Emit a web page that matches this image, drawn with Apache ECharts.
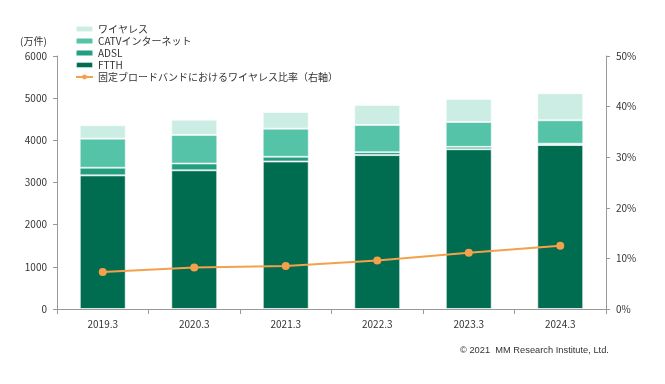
<!DOCTYPE html>
<html><head><meta charset="utf-8">
<script src="https://cdn.jsdelivr.net/npm/echarts@6/dist/echarts.min.js"></script>
<style>html,body{margin:0;padding:0;background:#fff}#c{width:665px;height:384px}</style>
</head><body><div id="c"></div>
<script>
const categories = ['2019.3','2020.3','2021.3','2022.3','2023.3','2024.3'];
const ftth     = [3170, 3290, 3500, 3650, 3790, 3890];
const adsl     = [180, 160, 110, 70, 55, 30];
const catv     = [690, 675, 667, 643, 590, 555];
const wireless = [320, 365, 395, 476, 548, 643];
const ratio    = [7.3, 8.2, 8.5, 9.6, 11.1, 12.5];

const font = '"Noto Sans CJK JP", "Noto Sans", sans-serif';
const chart = echarts.init(document.getElementById('c'));
const barBase = {type:'bar', stack:'t', barWidth:46};
chart.setOption({
  animation:false,
  textStyle:{fontFamily:font},
  grid:{left:57, right:59, top:56, bottom:75},
  legend:{
    orient:'vertical', left:70, top:18, itemWidth:17, itemHeight:6, itemGap:0,
    textStyle:{fontSize:10, color:'#333', fontFamily:font, lineHeight:12},
    data:['ワイヤレス','CATVインターネット','ADSL','FTTH','固定ブロードバンドにおけるワイヤレス比率（右軸）']
  },
  xAxis:{type:'category', data:categories,
    axisLine:{lineStyle:{color:'#999'}},
    axisTick:{show:true, length:5, lineStyle:{color:'#999'}},
    axisLabel:{color:'#333', fontSize:10, margin:10}},
  yAxis:[
    {type:'value', min:0, max:6000, interval:1000, position:'left',
     axisLine:{show:true, lineStyle:{color:'#999'}},
     axisTick:{show:true, length:4, lineStyle:{color:'#999'}},
     splitLine:{show:false},
     axisLabel:{color:'#333', fontSize:10, margin:10, formatter:v => String(v)}},
    {type:'value', min:0, max:50, interval:10, position:'right',
     axisLine:{show:true, lineStyle:{color:'#999'}},
     axisTick:{show:true, length:4, lineStyle:{color:'#999'}},
     splitLine:{show:false},
     axisLabel:{color:'#333', fontSize:10, margin:10, formatter:'{value}%'}}
  ],
  series:[
    Object.assign({}, barBase, {name:'FTTH', data:ftth, itemStyle:{color:'#006C50', borderColor:'rgba(255,255,255,0.7)', borderWidth:1}}),
    Object.assign({}, barBase, {name:'ADSL', data:adsl, itemStyle:{color:'#249E80', borderColor:'rgba(255,255,255,0.5)', borderWidth:1}}),
    Object.assign({}, barBase, {name:'CATVインターネット', data:catv, itemStyle:{color:'#55C3A8', borderColor:'rgba(255,255,255,0.5)', borderWidth:1}}),
    Object.assign({}, barBase, {name:'ワイヤレス', data:wireless, itemStyle:{color:'#CBEDE4', borderColor:'rgba(255,255,255,0.6)', borderWidth:1}}),
    {type:'line', name:'固定ブロードバンドにおけるワイヤレス比率（右軸）', yAxisIndex:1, data:ratio,
     symbol:'circle', symbolSize:8, lineStyle:{color:'#F5A04B', width:2}, itemStyle:{color:'#F5A04B'}, z:10}
  ],
  graphic:[
    {type:'text', left:20, top:36, style:{text:'(万件)', fontSize:10, fill:'#333', fontFamily:font}},
    {type:'text', left:460, top:346, style:{text:'© 2021  MM Research Institute, Ltd.', fontSize:9.3, fill:'#333', fontFamily:'"Liberation Sans", sans-serif'}}
  ]
});
</script></body></html>
